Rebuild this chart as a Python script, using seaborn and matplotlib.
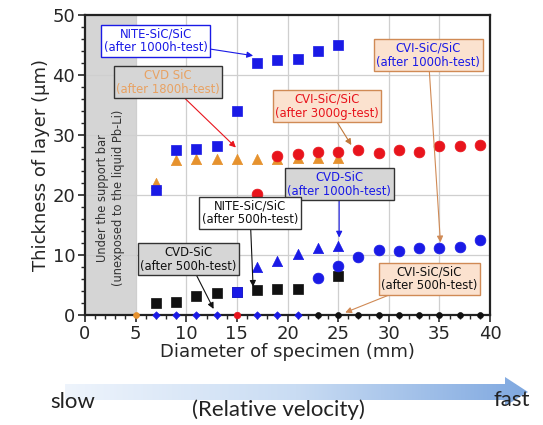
import numpy as np
import pandas as pd
import matplotlib.pyplot as plt
import seaborn as sns
from matplotlib.patches import Polygon
from matplotlib.colors import LinearSegmentedColormap

# --- data (diameter in mm, thickness in um) ---
nite_1000_x = [7, 9, 11, 13, 15, 17, 19, 21, 23, 25]
nite_1000_y = [20.8, 27.4, 27.7, 28.1, 33.9, 41.9, 42.4, 42.6, 44.0, 45.0]

cvd_1800_x = [7, 9, 11, 13, 15, 17, 19, 21, 23, 25]
cvd_1800_y = [22.0, 25.8, 25.9, 26.0, 25.9, 25.9, 26.0, 26.1, 26.1, 26.1]

cvi_3000_x = [17, 19, 21, 23, 25, 27, 29, 31, 33, 35, 37, 39]
cvi_3000_y = [20.1, 26.5, 26.8, 27.2, 27.2, 27.5, 26.9, 27.5, 27.1, 28.2, 28.2, 28.3]

cvd_1000_x = [17, 19, 21, 23, 25]
cvd_1000_y = [8.0, 9.0, 10.2, 11.2, 11.5]

cvi_1000_x = [23, 25, 27, 29, 31, 33, 35, 37, 39]
cvi_1000_y = [6.1, 8.2, 9.6, 10.8, 10.7, 11.1, 11.2, 11.4, 12.5]

nite_500_x = [7, 9, 11, 13, 15, 17, 19, 21, 25]
nite_500_y = [2.0, 2.2, 3.2, 3.6, 3.9, 4.2, 4.3, 4.3, 6.5]

blue_low_x = [15]
blue_low_y = [3.9]

cvd_500_x = [7, 9, 11, 13, 17, 19, 21]
cvd_500_y = [0, 0, 0, 0, 0, 0, 0]

cvi_500_x = [23, 25, 27, 29, 31, 33, 35, 37, 39]
cvi_500_y = [0, 0, 0, 0, 0, 0, 0, 0, 0]

red_zero_x, red_zero_y = [15], [0]
orange_zero_x, orange_zero_y = [5], [0]

BLUE = "#1a1ae6"
RED = "#e8141c"
ORANGE = "#e6922e"
BLACK = "#111111"

sns.set_style("ticks")
plt.rcParams["font.family"] = ["DejaVu Sans"]

fig = plt.figure(figsize=(5.43, 4.25), dpi=100)
ax = fig.add_axes([0.1565, 0.259, 0.746, 0.706])

# shaded region under the support bar
ax.axvspan(0, 5, color="#d5d5d5", zorder=0, lw=0)
ax.text(2.5, 19.5, "Under the support bar\n(unexposed to the liquid Pb-Li)",
        rotation=90, ha="center", va="center", fontsize=8.3, color="#333333",
        linespacing=1.25, zorder=1)

for v in range(5, 40, 5):
    ax.axvline(v, color="#cfcfcf", lw=0.9, zorder=0.5)
for v in range(10, 50, 10):
    ax.axhline(v, color="#cfcfcf", lw=0.9, zorder=0.5)

def pts(x, y, color, marker, size):
    df = pd.DataFrame({"x": x, "y": y})
    sns.scatterplot(data=df, x="x", y="y", color=color, marker=marker, s=size,
                    edgecolor=color, linewidth=0.5, ax=ax, zorder=3, clip_on=False)

pts(cvd_1800_x, cvd_1800_y, ORANGE, "^", 55)
pts(nite_1000_x, nite_1000_y, BLUE, "s", 55)
pts(cvi_3000_x, cvi_3000_y, RED, "o", 60)
pts(nite_500_x, nite_500_y, BLACK, "s", 55)
pts(blue_low_x, blue_low_y, BLUE, "s", 55)
pts(cvd_1000_x, cvd_1000_y, BLUE, "^", 55)
pts(cvi_1000_x, cvi_1000_y, BLUE, "o", 60)
pts(cvd_500_x, cvd_500_y, BLUE, "D", 14)
pts(cvi_500_x, cvi_500_y, BLACK, "o", 18)
pts(red_zero_x, red_zero_y, RED, "o", 22)
pts(orange_zero_x, orange_zero_y, ORANGE, "o", 18)

# annotation boxes
PEACH = "#fbe2cf"
GREY = "#d6d6d6"
notes = [
    ("NITE-SiC/SiC\n(after 1000h-test)", (7.0, 45.7), (16.6, 43.2), BLUE, "white", BLUE, BLUE),
    ("CVD SiC\n(after 1800h-test)", (8.2, 38.8), (14.9, 27.9), "#e8a263", GREY, "#333333", RED),
    ("CVI-SiC/SiC\n(after 3000g-test)", (23.9, 34.8), (26.3, 28.3), RED, PEACH, "#d08a55", "#c0783a"),
    ("CVI-SiC/SiC\n(after 1000h-test)", (33.9, 43.3), (35.1, 12.1), BLUE, PEACH, "#d08a55", "#d08a55"),
    ("CVD-SiC\n(after 1000h-test)", (25.1, 21.8), (25.1, 12.9), BLUE, GREY, "#333333", BLUE),
    ("NITE-SiC/SiC\n(after 500h-test)", (16.3, 17.0), (16.6, 4.7), BLACK, "white", "#333333", BLACK),
    ("CVD-SiC\n(after 500h-test)", (10.2, 9.3), (12.7, 1.0), BLACK, GREY, "#333333", BLACK),
    ("CVI-SiC/SiC\n(after 500h-test)", (34.0, 6.0), (25.7, 0.4), BLACK, PEACH, "#d08a55", "#d08a55"),
]
for txt, xytext, xy, tc, fc, ec, ac in notes:
    ax.annotate(txt, xy=xy, xytext=xytext, ha="center", va="center",
                fontsize=8.4, color=tc, linespacing=1.1, zorder=5,
                bbox=dict(boxstyle="square,pad=0.22", fc=fc, ec=ec, lw=1.0),
                arrowprops=dict(arrowstyle="-|>", color=ac, lw=0.8,
                                mutation_scale=9, shrinkA=0, shrinkB=0))

ax.set_xlim(0, 40)
ax.set_ylim(0, 50)
ax.set_xticks(range(0, 41, 5))
ax.set_yticks(range(0, 51, 10))
ax.set_xticks(range(0, 41, 1), minor=True)
ax.set_yticks(range(0, 51, 2), minor=True)
ax.tick_params(axis="both", which="major", labelsize=13, length=5, width=1.2,
               direction="out", pad=2)
ax.tick_params(axis="both", which="minor", length=3, width=1.0, direction="out")
for sp in ax.spines.values():
    sp.set_visible(True)
    sp.set_linewidth(1.6)
    sp.set_color("#222222")
ax.set_xlabel("Diameter of specimen (mm)", fontsize=13, labelpad=0)
ax.set_ylabel("Thickness of layer (μm)", fontsize=13, labelpad=2)

# velocity arrow under the chart
bx = fig.add_axes([0, 0, 1, 1], zorder=-1)
bx.set_xlim(0, 543)
bx.set_ylim(425, 0)
bx.axis("off")
grad = np.linspace(0, 1, 256).reshape(1, -1)
cmap = LinearSegmentedColormap.from_list("vel", ["#eef4fc", "#c9dcf3", "#7fa8e0"])
im = bx.imshow(grad, extent=[65, 528, 405, 376], cmap=cmap, aspect="auto")
arrow = Polygon([[65, 384], [505, 384], [505, 377], [528, 392], [505, 406],
                 [505, 400], [65, 400]], closed=True, transform=bx.transData,
                facecolor="none", edgecolor="none")
bx.add_patch(arrow)
im.set_clip_path(arrow)

fig.text(50 / 543, 1 - 402 / 425, "slow", fontsize=16, family="Lato",
         ha="left", va="center", color="#222222")
fig.text(530 / 543, 1 - 400 / 425, "fast", fontsize=16, family="Lato",
         ha="right", va="center", color="#222222")
fig.text(278 / 543, 1 - 410 / 425, "(Relative velocity)", fontsize=16, family="Lato",
         ha="center", va="center", color="#222222")

fig.savefig("out.png", dpi=100)
